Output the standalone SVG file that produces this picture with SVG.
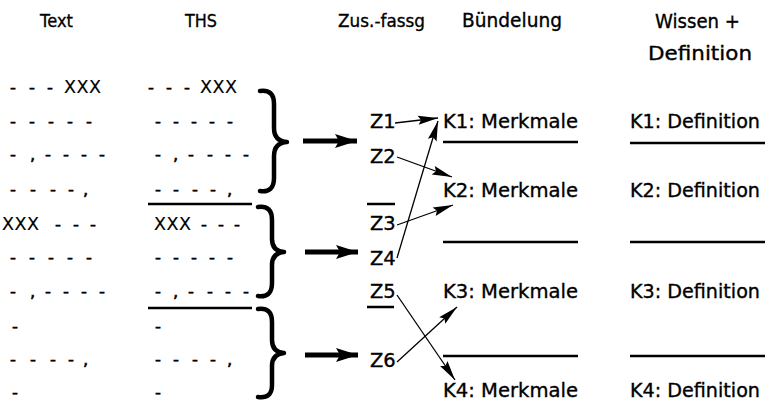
<svg xmlns="http://www.w3.org/2000/svg" width="765" height="402" viewBox="0 0 765 402">
<defs>
<marker id="thin" markerUnits="userSpaceOnUse" markerWidth="20" markerHeight="9" refX="20" refY="4.5" orient="auto" overflow="visible"><path d="M0,0 L20,4.5 L0,9 L3,4.5 z" fill="#000"/></marker>
<marker id="thick" markerUnits="userSpaceOnUse" markerWidth="22" markerHeight="14" refX="22" refY="7" orient="auto" overflow="visible"><path d="M0,0 L22,7 L0,14 L4,7 z" fill="#000"/></marker>
</defs>
<style>
text{font-family:"DejaVu Sans","Liberation Sans",sans-serif;fill:#000;stroke:#000;stroke-width:0.35}
.h{font-size:18px}
.r{font-size:16.5px;stroke-width:0.6}
.x{font-size:17.5px;stroke-width:0.15}
.l{font-size:19.5px}
.rule{stroke:#000;stroke-width:2.5;fill:none}
.brace{stroke:#000;stroke-width:4.5;fill:none;stroke-linecap:round;stroke-linejoin:round}
.ta{stroke:#000;stroke-width:1.3;fill:none;marker-end:url(#thin)}
.ka{stroke:#000;stroke-width:5;fill:none;marker-end:url(#thick)}
</style>
<rect width="765" height="402" fill="#fff"/>
<g id="headers">
<text class="h" x="40" y="27" textLength="33" lengthAdjust="spacingAndGlyphs">Text</text>
<text class="h" x="185" y="27" textLength="32" lengthAdjust="spacingAndGlyphs">THS</text>
<text class="h" x="338" y="27" textLength="87" lengthAdjust="spacingAndGlyphs">Zus.-fassg</text>
<text class="h" x="462" y="27" textLength="100" lengthAdjust="spacingAndGlyphs" style="font-size:19px">Bündelung</text>
<text class="h" x="655" y="28" textLength="85" lengthAdjust="spacingAndGlyphs" style="font-size:19px">Wissen +</text>
<text class="h" x="648" y="60" textLength="104" lengthAdjust="spacingAndGlyphs" style="font-size:19px">Definition</text>
</g>
<g id="text-column">
<text class="r" x="10 29 47" y="93">---<tspan class="x" x="64 76.5 89">XXX</tspan></text>
<text class="r" x="10 29 48 67 86" y="127">-----</text>
<text class="r" x="10 30 45 63 81 99" y="160">-,----</text>
<text class="r" x="10 30 50 68 83" y="195">----,</text>
<text class="r" y="230"><tspan class="x" x="2 14.5 27">XXX</tspan><tspan x="55 73 90">---</tspan></text>
<text class="r" x="10 29 48 67 86" y="263">-----</text>
<text class="r" x="10 30 45 63 81 99" y="297">-,----</text>
<text class="r" x="12" y="332">-</text>
<text class="r" x="10 30 50 68 83" y="365">----,</text>
<text class="r" x="12" y="398">-</text>
</g>
<g id="ths-column">
<text class="r" x="148 166 184" y="93">---<tspan class="x" x="200 212.5 225">XXX</tspan></text>
<text class="r" x="155 173 191 209 227" y="127">-----</text>
<text class="r" x="155 173 188 207 225 243" y="160">-,----</text>
<text class="r" x="155 173 192 210 227" y="195">----,</text>
<line class="rule" x1="148" y1="204" x2="252" y2="204"/>
<text class="r" y="230"><tspan class="x" x="154 166.5 179">XXX</tspan><tspan x="201 218 234">---</tspan></text>
<text class="r" x="155 173 191 209 227" y="263">-----</text>
<text class="r" x="155 173 188 207 225 243" y="297">-,----</text>
<line class="rule" x1="148" y1="308" x2="252" y2="308"/>
<text class="r" x="155" y="332">-</text>
<text class="r" x="155 173 192 210 227" y="365">----,</text>
<text class="r" x="155" y="398">-</text>
</g>
<g id="braces">
<path class="brace" d="M260,91 Q274,89 274,104 L274,128 Q274,141 287,142 Q274,143 274,156 L274,178 Q274,193 260,191"/>
<path class="brace" d="M258,207 Q272,205 272,220 L272,239 Q272,251 284,252 Q272,253 272,265 L272,283 Q272,298 258,296"/>
<path class="brace" d="M258,309 Q272,307 272,322 L272,340 Q272,352 284,353 Q272,354 272,366 L272,385 Q272,399 258,397"/>
</g>
<g id="z-labels">
<g id="Z1"><text class="l" x="370" y="128">Z1</text></g>
<g id="Z2"><text class="l" x="370" y="163">Z2</text></g>
<g id="Z3"><line class="rule" x1="367" y1="204" x2="395" y2="204"/><text class="l" x="370" y="230">Z3</text></g>
<g id="Z4"><text class="l" x="370" y="265">Z4</text></g>
<g id="Z5"><text class="l" x="370" y="298">Z5</text><line class="rule" x1="367" y1="307" x2="394" y2="307"/></g>
<g id="Z6"><text class="l" x="370" y="367">Z6</text></g>
</g>
<g id="k-labels">
<g id="K1"><text class="l" x="443" y="128" textLength="135" lengthAdjust="spacingAndGlyphs">K1: Merkmale</text><line class="rule" x1="443" y1="142" x2="578" y2="142"/></g>
<g id="K2"><text class="l" x="443" y="197" textLength="135" lengthAdjust="spacingAndGlyphs">K2: Merkmale</text><line class="rule" x1="443" y1="242" x2="578" y2="242"/></g>
<g id="K3"><text class="l" x="443" y="298" textLength="135" lengthAdjust="spacingAndGlyphs">K3: Merkmale</text><line class="rule" x1="443" y1="356" x2="578" y2="356"/></g>
<g id="K4"><text class="l" x="443" y="397" textLength="135" lengthAdjust="spacingAndGlyphs">K4: Merkmale</text></g>
</g>
<g id="definitions">
<g id="D1"><text class="l" x="630" y="128" textLength="130" lengthAdjust="spacingAndGlyphs">K1: Definition</text><line class="rule" x1="630" y1="143" x2="765" y2="143"/></g>
<g id="D2"><text class="l" x="630" y="197" textLength="130" lengthAdjust="spacingAndGlyphs">K2: Definition</text><line class="rule" x1="630" y1="242" x2="765" y2="242"/></g>
<g id="D3"><text class="l" x="630" y="298" textLength="130" lengthAdjust="spacingAndGlyphs">K3: Definition</text><line class="rule" x1="630" y1="356" x2="765" y2="356"/></g>
<g id="D4"><text class="l" x="630" y="397" textLength="130" lengthAdjust="spacingAndGlyphs">K4: Definition</text></g>
</g>
<g id="connectors">
<line class="ka" x1="303" y1="141" x2="357" y2="141"/>
<line class="ka" x1="305" y1="252" x2="358" y2="252"/>
<line class="ka" x1="305" y1="355" x2="358" y2="355"/>
<line class="ta" x1="395" y1="123" x2="438" y2="118"/>
<line class="ta" x1="397" y1="157" x2="452" y2="177"/>
<line class="ta" x1="397" y1="258" x2="438" y2="121"/>
<line class="ta" x1="397" y1="225" x2="453" y2="205"/>
<line class="ta" x1="397" y1="295" x2="455" y2="380"/>
<line class="ta" x1="397" y1="362" x2="457" y2="307"/>
</g>
</svg>
